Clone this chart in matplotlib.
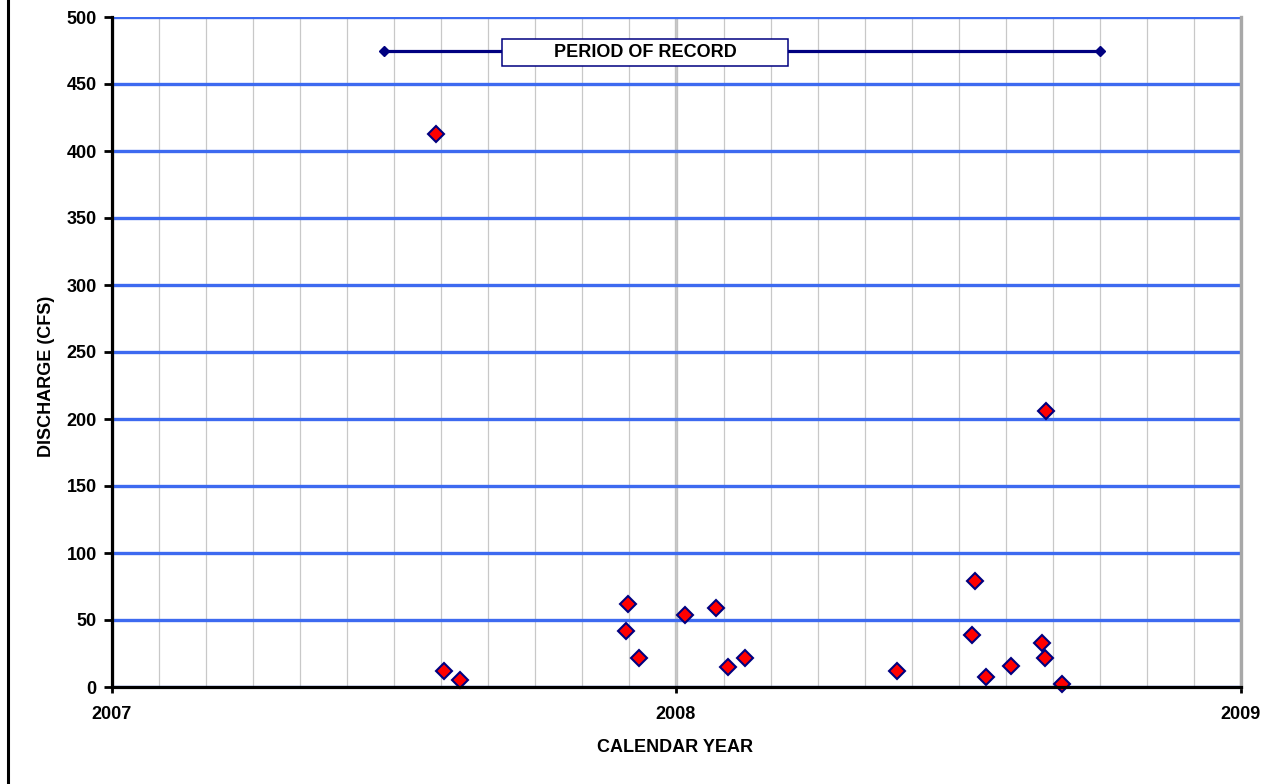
import matplotlib
matplotlib.use("Agg")
import matplotlib.pyplot as plt
import matplotlib.dates as mdates
from matplotlib.lines import Line2D
from matplotlib.patches import Rectangle
import datetime as dt

# ---- data ----
sample_dates = [
    "2007-07-30", "2007-08-04", "2007-08-14",
    "2007-11-30", "2007-12-01", "2007-12-08",
    "2008-01-07", "2008-01-27", "2008-02-04", "2008-02-15",
    "2008-05-23", "2008-07-11", "2008-07-13", "2008-07-20",
    "2008-08-05", "2008-08-25", "2008-08-27", "2008-08-28", "2008-09-07",
]
discharge_cfs = [
    413, 12, 5.5,
    42, 62, 22,
    54, 59, 15, 22,
    12, 39, 79, 7.5,
    16, 32.5, 22, 206, 2,
]
period_dates = ["2007-06-26", "2008-10-02"]
period_level = [475, 475]
period_label = "PERIOD OF RECORD"
y_ticks = [0, 50, 100, 150, 200, 250, 300, 350, 400, 450, 500]
x_range = ["2007-01-01", "2009-01-01"]
x_title = "CALENDAR YEAR"
y_title = "DISCHARGE (CFS)"

to_dt = lambda s: dt.datetime.strptime(s, "%Y-%m-%d")

plt.rcParams["font.family"] = ["Liberation Sans", "DejaVu Sans"]
plt.rcParams["font.weight"] = "bold"

W, H = 1277, 784
fig = plt.figure(figsize=(W / 100, H / 100), dpi=100)
ax = fig.add_axes([112 / W, 1 - 687 / H, (1241 - 112) / W, (687 - 17) / H])

# grid
x0, x1 = mdates.date2num(to_dt(x_range[0])), mdates.date2num(to_dt(x_range[1]))
ax.set_xlim(x0, x1)
ax.set_ylim(y_ticks[0], y_ticks[-1])
ax.set_yticks(y_ticks)
ax.xaxis.set_major_locator(mdates.YearLocator())
ax.xaxis.set_major_formatter(mdates.DateFormatter("%Y"))
ax.set_xticks([x0 + k * (x1 - x0) / 24 for k in range(25)], minor=True)
ax.set_axisbelow(True)
ax.grid(which="minor", axis="x", color="#C8C8C8", lw=0.9)
ax.grid(which="major", axis="x", color="#C0C0C0", lw=2.4)
ax.grid(which="major", axis="y", color="#3D6AF0", lw=2.4)

# period of record
pd_ = [to_dt(d) for d in period_dates]
ax.plot(pd_, period_level, color="#000080", lw=2.3, marker="D", ms=5.5,
        mfc="#000080", mec="#000080", zorder=3, clip_on=False)
ax.add_patch(Rectangle((0.3454, 0.9269), 0.2534, 0.0403, transform=ax.transAxes,
                       facecolor="white", edgecolor="#000080", lw=1.1, zorder=4))
ax.text(0.4721, 0.9475, period_label, transform=ax.transAxes, ha="center",
        va="center", fontsize=13, fontweight="bold", zorder=5)

# data
ax.plot([to_dt(d) for d in sample_dates], discharge_cfs, ls="none", marker="D",
        ms=7.8, mfc="#FF0000", mec="#000080", mew=1.5, zorder=6, clip_on=False)

# spines
ax.spines["top"].set_visible(False)
ax.spines["right"].set_color("#A8A8A8")
ax.spines["right"].set_linewidth(2.4)
ax.spines["left"].set_linewidth(2.3)
ax.spines["bottom"].set_linewidth(2.3)
ax.spines["left"].set_zorder(7)
ax.spines["bottom"].set_zorder(7)

ax.tick_params(axis="y", which="major", length=5.5, width=2, pad=5.5,
               labelsize=13, direction="out")
ax.tick_params(axis="x", which="major", length=4, width=2, pad=10,
               labelsize=13, direction="out")
ax.tick_params(axis="x", which="minor", length=0)
for lab in ax.get_xticklabels() + ax.get_yticklabels():
    lab.set_fontweight("bold")

ax.set_xlabel(x_title, fontsize=13, fontweight="bold")
ax.set_ylabel(y_title, fontsize=13, fontweight="bold")
ax.xaxis.set_label_coords(0.4987, -0.0896)
ax.yaxis.set_label_coords(-0.058, 0.463)
ax.xaxis.label.set_va("center")
ax.yaxis.label.set_va("center")

# left border of figure
fig.add_artist(Line2D([7.5 / W, 7.5 / W], [0, 1], color="black", lw=2.2,
                      transform=fig.transFigure))

fig.savefig("out.png", dpi=100)
